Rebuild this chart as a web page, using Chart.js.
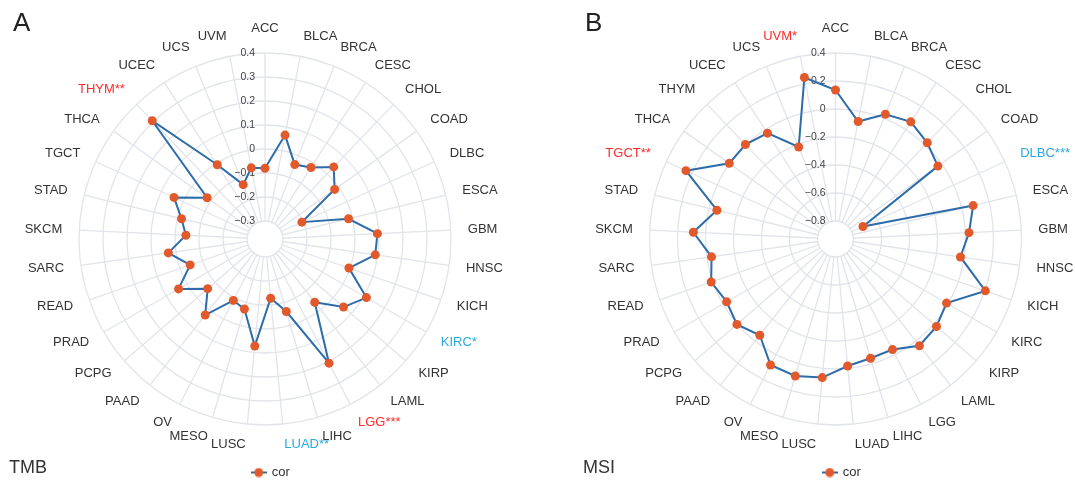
<!DOCTYPE html>
<html>
<head>
<meta charset="utf-8">
<script src="https://cdn.jsdelivr.net/npm/chart.js@4/dist/chart.umd.min.js"></script>
<style>
  body { margin: 0; background: #fff; font-family: "Liberation Sans", Arial, sans-serif; }
  #wrap { position: relative; width: 1075px; height: 480px; overflow: hidden; }
  canvas { position: absolute; top: 0; }
  .t { position: absolute; line-height: 1; color: #222; white-space: nowrap; }
</style>
</head>
<body>
<div id="wrap">
  <canvas id="tmb" width="540" height="480" style="left:0"></canvas>
  <canvas id="msi" width="535" height="480" style="left:540px"></canvas>
  <div class="t" style="left:13px;top:9px;font-size:26px">A</div>
  <div class="t" style="left:585px;top:9px;font-size:26px">B</div>
  <div class="t" style="left:9px;top:458px;font-size:18px;color:#333">TMB</div>
  <div class="t" style="left:583px;top:458px;font-size:18px;color:#333">MSI</div>
</div>
<script>
// cancer types, clockwise from the top
const CATS_A = ['ACC','BLCA','BRCA','CESC','CHOL','COAD','DLBC','ESCA','GBM','HNSC','KICH','KIRC*','KIRP','LAML','LGG***','LIHC','LUAD**','LUSC','MESO','OV','PAAD','PCPG','PRAD','READ','SARC','SKCM','STAD','TGCT','THCA','THYM**','UCEC','UCS','UVM'];
const CATS_B = ['ACC','BLCA','BRCA','CESC','CHOL','COAD','DLBC***','ESCA','GBM','HNSC','KICH','KIRC','KIRP','LAML','LGG','LIHC','LUAD','LUSC','MESO','OV','PAAD','PCPG','PRAD','READ','SARC','SKCM','STAD','TGCT**','THCA','THYM','UCEC','UCS','UVM*'];

// correlation with TMB / MSI
const COR_A = [-0.080, 0.066, -0.041, -0.021, 0.040, -0.019, -0.206, -0.017, 0.094, 0.089, -0.005, 0.113, 0.058, -0.040, 0.207, -0.060, -0.127, 0.073, -0.071, -0.087, 0.028, -0.059, 0.041, -0.045, 0.032, -0.045, -0.017, 0.042, -0.079, 0.306, -0.007, -0.131, -0.073];
const COR_B = [0.136, -0.074, 0.031, 0.066, 0.021, -0.031, -0.713, 0.083, 0.026, -0.027, 0.204, -0.013, 0.026, 0.041, -0.040, -0.041, -0.017, 0.066, 0.091, 0.084, -0.054, 0.003, -0.031, 0.011, -0.034, 0.088, -0.057, 0.246, 0.003, 0.004, -0.030, -0.221, 0.246];

// radial ticks
const TICKS_A = [-0.3, -0.2, -0.1, 0, 0.1, 0.2, 0.3, 0.4];
const TICKS_B = [-0.8, -0.6, -0.4, -0.2, 0, 0.2, 0.4];

// labels drawn in blue, the other starred ones are red
const BLUE_A = ['KIRC*', 'LUAD**'];
const BLUE_B = ['DLBC***'];

const FONT = '"Liberation Sans", Arial, sans-serif';
const LINE = '#2d6ca9', DOT = '#e25a2b', GRID = '#e1e4ea';
const RED = '#ff2b2b', BLUE = '#2aa8e2';
const PAD = 17;

function fmt(v) { return v < 0 ? '\u2212' + Math.abs(v) : String(v); }

// legend marker: a short line through a dot
const mark = document.createElement('canvas');
mark.width = 16; mark.height = 10;
const m = mark.getContext('2d');
m.strokeStyle = LINE; m.lineWidth = 2;
m.beginPath(); m.moveTo(0, 5); m.lineTo(16, 5); m.stroke();
m.fillStyle = DOT;
m.beginPath(); m.arc(8, 5, 4.5, 0, 2 * Math.PI); m.fill();

// put the radar at a fixed centre / radius, then lay the point labels out around it
function place(s, g) {
  const keep = { left: s.left, right: s.right, top: s.top, bottom: s.bottom };
  Object.assign(s, { left: -5000, right: 5000, top: -5000, bottom: 5000, xCenter: g.x, yCenter: g.y, drawingArea: g.r });
  s.fit();
  Object.assign(s, keep);
  // side labels are centred vertically on their spoke (plotly style)
  s._pointLabelItems.forEach((it, i) => {
    if (it.textAlign === 'center') return;
    const p = s.getPointPosition(i, g.r + PAD);
    const cos = (g.y - p.y) / (g.r + PAD);
    const h = it.bottom - it.top;
    it.y = p.y - h / 2 - 3 * cos;
    it.top = it.y;
    it.bottom = it.y + h;
  });
}

function makeChart(id, cats, values, ticks, min, blue, geom, legendPad) {
  const colors = cats.map(l => !l.includes('*') ? '#333' : (blue.includes(l) ? BLUE : RED));

  // white hole in the middle + tick labels along the vertical axis
  const decor = {
    id: 'decor',
    beforeDatasetsDraw(chart) {
      const s = chart.scales.r, c = chart.ctx;
      c.save();
      c.fillStyle = '#fff';
      c.beginPath();
      c.arc(s.xCenter, s.yCenter, s.getDistanceFromCenterForValue(ticks[0]) - 1, 0, 2 * Math.PI);
      c.fill();
      c.font = '10.5px ' + FONT;
      c.fillStyle = '#444';
      c.textAlign = 'right';
      c.textBaseline = 'middle';
      ticks.forEach(v => c.fillText(fmt(v), s.xCenter - 10, s.yCenter - s.getDistanceFromCenterForValue(v)));
      c.restore();
    }
  };

  new Chart(document.getElementById(id), {
    type: 'radar',
    data: {
      labels: cats,
      datasets: [{
        label: 'cor',
        data: values,
        borderColor: LINE,
        borderWidth: 2,
        pointBackgroundColor: DOT,
        pointBorderColor: DOT,
        pointBorderWidth: 0,
        pointRadius: 4.5,
        fill: false,
        clip: false
      }]
    },
    options: {
      responsive: false,
      animation: false,
      layout: { padding: { left: legendPad, bottom: -9 } },
      scales: {
        r: {
          min: min,
          max: 0.4,
          afterBuildTicks: s => { s.ticks = ticks.map(v => ({ value: v })); },
          afterFit: s => place(s, geom),
          grid: { circular: true, color: GRID, lineWidth: 1.3 },
          angleLines: { color: GRID, lineWidth: 1.3 },
          ticks: { display: false },
          pointLabels: {
            font: { size: 13, family: FONT },
            color: ctx => colors[ctx.index],
            padding: PAD
          }
        }
      },
      plugins: {
        tooltip: { enabled: false },
        legend: {
          position: 'bottom',
          labels: {
            usePointStyle: true,
            color: '#333',
            padding: 3,
            font: { size: 13, family: FONT },
            generateLabels: () => [{ text: 'cor', pointStyle: mark, fillStyle: DOT, strokeStyle: DOT, lineWidth: 0, hidden: false, datasetIndex: 0, fontColor: '#333' }]
          }
        }
      }
    },
    plugins: [decor]
  });
}

makeChart('tmb', CATS_A, COR_A, TICKS_A, -0.375, BLUE_A, { x: 265, y: 239, r: 186 }, 2);
makeChart('msi', CATS_B, COR_B, TICKS_B, -0.9286, BLUE_B, { x: 295.5, y: 239, r: 186 }, 69);
</script>
</body>
</html>
